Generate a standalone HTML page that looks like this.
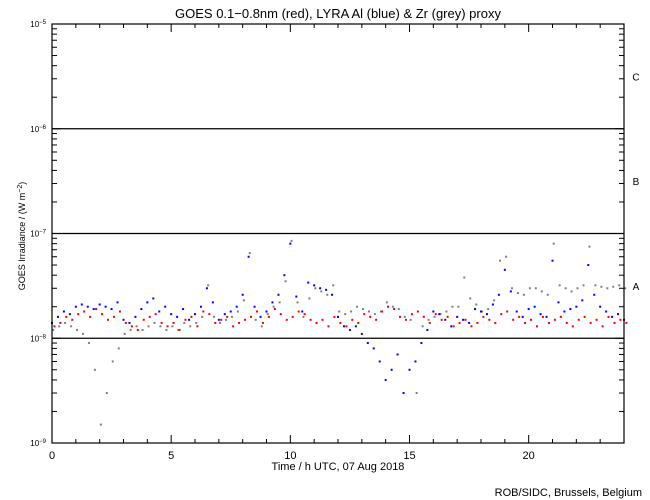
<!DOCTYPE html>
<html><head><meta charset="utf-8"><style>
body{margin:0;background:#fff;}
svg{display:block;font-family:"Liberation Sans",sans-serif;}
</style></head><body>
<svg id="chart" width="650" height="500" viewBox="0 0 650 500" xmlns="http://www.w3.org/2000/svg">
<rect width="650" height="500" fill="#fff"/>
<text x="338" y="18" font-size="13" text-anchor="middle">GOES 0.1−0.8nm (red), LYRA Al (blue) &amp; Zr (grey) proxy</text>
<g id="grid"></g>
<g id="marks"></g>
<g id="axes"></g>
<text transform="translate(25,236) rotate(-90)" font-size="9" text-anchor="middle">GOES Irradiance / (W m<tspan dy="-3" font-size="7">−2</tspan><tspan dy="3">)</tspan></text>
<text x="338" y="470" font-size="11" text-anchor="middle">Time / h UTC, 07 Aug 2018</text>
<text x="642" y="496" font-size="11" text-anchor="end">ROB/SIDC, Brussels, Belgium</text>
</svg>
<script>
const xTicks=[0,5,10,15,20];
const yDecades=[-9,-8,-7,-6,-5];
const classLabels=["A","B","C"];
const times=[];for(let i=0;i<=96;i++)times.push(i/4);
// values in units of 1e-8 W m^-2, every 15 min
const goesRed=[1.3,1.4,1.6,1.5,1.7,1.8,1.6,1.9,1.7,1.5,1.6,1.8,1.4,1.3,1.2,1.5,1.6,1.7,1.4,1.3,1.4,1.2,1.5,1.6,1.3,1.8,1.7,1.4,1.5,1.6,1.3,1.4,1.5,1.6,1.8,1.4,1.6,1.9,1.7,1.5,1.6,1.8,1.7,1.5,1.4,1.5,1.3,1.6,1.4,1.3,1.5,1.4,1.7,1.6,1.5,1.8,2.0,1.9,1.6,1.5,1.7,1.8,1.6,1.4,1.7,1.5,1.6,1.3,1.4,1.5,1.3,1.4,1.6,1.5,1.4,1.7,1.8,1.5,1.6,1.4,1.5,1.3,1.6,1.4,1.5,1.6,1.4,1.3,1.5,1.6,1.4,1.5,1.3,1.6,1.4,1.5,1.4];
const lyraBlue=[1.4,1.6,1.8,1.7,2.0,2.1,2.0,1.9,2.1,2.0,1.9,2.2,1.5,1.4,1.6,1.9,2.2,2.4,1.8,2.0,1.7,1.6,1.9,1.5,1.7,2.0,3.0,2.2,1.5,1.7,1.8,2.0,2.6,6.0,2.0,1.6,1.8,2.2,2.6,4.0,8.0,2.5,1.8,3.4,3.2,3.0,2.9,2.6,1.6,1.3,1.2,1.3,1.1,0.9,0.8,0.6,0.4,0.5,0.7,0.3,0.5,0.6,0.9,1.2,1.8,1.7,1.5,1.3,1.6,1.5,1.4,1.9,1.8,1.7,2.1,2.6,4.5,2.8,1.8,1.6,1.9,2.0,1.7,1.6,5.5,2.2,1.8,1.9,2.0,2.3,5.0,2.6,2.0,1.8,1.6,1.7,1.5];
const lyraGrey=[1.2,1.3,1.4,1.3,1.2,1.1,0.9,0.5,0.15,0.3,0.6,0.8,1.1,1.2,1.3,1.2,1.3,1.4,1.3,1.2,1.3,1.2,1.4,1.3,1.4,1.6,3.2,1.6,1.4,1.5,1.6,1.8,2.3,6.5,1.5,1.3,1.7,2.0,2.2,3.5,8.5,2.2,1.6,2.4,3.0,2.8,2.6,3.2,1.8,1.7,1.8,2.0,1.9,1.8,1.7,1.8,2.2,2.0,1.9,1.6,1.5,0.3,1.3,1.5,1.6,1.7,1.8,2.0,2.0,3.8,2.4,2.1,1.8,1.9,2.3,5.5,6.0,3.0,2.7,2.6,3.0,3.0,2.8,2.6,8.0,3.2,3.0,2.8,3.0,3.2,7.5,3.2,3.1,3.0,3.1,3.2,3.0];
const NS="http://www.w3.org/2000/svg";
const X0=52,X1=624,Y0=443,Y1=24;
const xScale=h=>X0+(X1-X0)*h/24;
const yScale=v=>Y0-(Math.log10(v)+9)*(Y0-Y1)/4;
function mk(tag,attrs,parent){const e=document.createElementNS(NS,tag);for(const k in attrs)e.setAttribute(k,attrs[k]);parent.appendChild(e);return e;}
const grid=document.getElementById('grid'),marks=document.getElementById('marks'),axes=document.getElementById('axes');
[-8,-7,-6].forEach(d=>{const y=yScale(Math.pow(10,d));
 const l=mk('line',{x1:X0,x2:X1,y1:y,y2:y,stroke:'#000','stroke-width':1.2},grid);
 
 });
classLabels.forEach((c,i)=>{const y=(yScale(Math.pow(10,-8+i))+yScale(Math.pow(10,-7+i)))/2+4;
 const t=mk('text',{x:636,y:y,'font-size':10,'text-anchor':'middle'},axes);t.textContent=c;
 
 });
function series(arr,color,name,dx){arr.forEach((v,i)=>{const r=mk('rect',{x:xScale(times[i]+dx)-1,y:yScale(v*1e-8)-1,width:2,height:2,fill:color},marks);
 
 });}
series(lyraGrey,'#808080','zr-point',0.05);
series(lyraBlue,'#0000ff','al-point',0);
series(goesRed,'#ff0000','goes-point',0.1);
const frame=mk('rect',{x:X0,y:Y1,width:X1-X0,height:Y0-Y1,fill:'none',stroke:'#000','stroke-width':1.2},axes);


for(let h=0;h<=24;h++){const x=xScale(h),len=h%5===0?8:4;
 mk('line',{x1:x,x2:x,y1:Y0,y2:Y0-len,stroke:'#000'},axes);
 mk('line',{x1:x,x2:x,y1:Y1,y2:Y1+len,stroke:'#000'},axes);}
xTicks.forEach(h=>{const t=mk('text',{x:xScale(h),y:Y0+16,'font-size':11,'text-anchor':'middle'},axes);t.textContent=h;
 
 });
yDecades.forEach(d=>{if(d<-5)for(let m=2;m<=9;m++){const y=yScale(m*Math.pow(10,d));
 mk('line',{x1:X0,x2:X0+5,y1:y,y2:y,stroke:'#000'},axes);mk('line',{x1:X1,x2:X1-5,y1:y,y2:y,stroke:'#000'},axes);}
 const y=yScale(Math.pow(10,d));
 mk('line',{x1:X0,x2:X0+9,y1:y,y2:y,stroke:'#000'},axes);mk('line',{x1:X1,x2:X1-9,y1:y,y2:y,stroke:'#000'},axes);
 const t=mk('text',{x:46,y:y+3,'font-size':8,'text-anchor':'end'},axes);t.textContent='10';
 const s=mk('tspan',{dy:-3,'font-size':6},t);s.textContent=String(d).replace('-','−');
 
 });
</script>
</body></html>
